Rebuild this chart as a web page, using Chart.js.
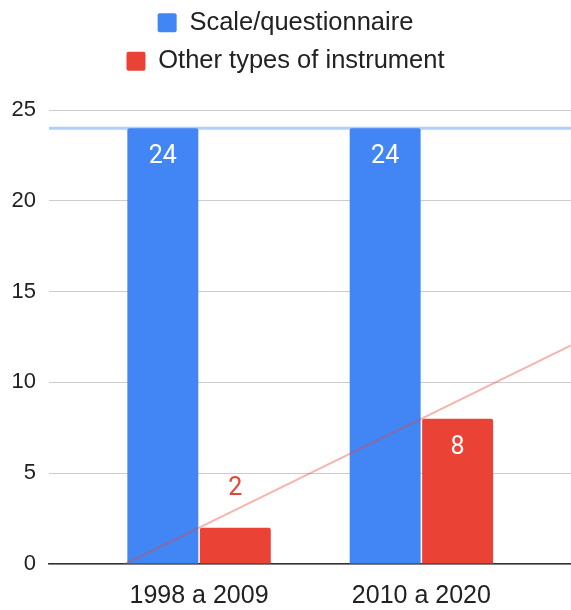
<!DOCTYPE html>
<html>
<head>
<meta charset="utf-8">
<script src="https://cdn.jsdelivr.net/npm/chart.js@4/dist/chart.umd.min.js"></script>
<style>
  html, body { margin: 0; padding: 0; background: #ffffff; }
  canvas { display: block; }
</style>
</head>
<body>
<canvas id="chart" width="571" height="610"></canvas>
<script>
// Periods on the horizontal axis
const periods = ['1998 a 2009', '2010 a 2020'];
// Number of studies per instrument type
const scaleQuestionnaire = [24, 24];
const otherInstruments = [2, 8];
// Value axis ticks
const yTicks = [0, 5, 10, 15, 20, 25];

const BLUE = '#4285f4';
const RED = '#ea4335';
const X_MIN = -0.675;
const X_MAX = 1.673;

// Least-squares linear trend over the period index
function linearTrend(values) {
  const n = values.length;
  const xs = values.map((_, i) => i);
  const mx = xs.reduce((a, b) => a + b, 0) / n;
  const my = values.reduce((a, b) => a + b, 0) / n;
  let num = 0, den = 0;
  xs.forEach((x, i) => { num += (x - mx) * (values[i] - my); den += (x - mx) * (x - mx); });
  const slope = den ? num / den : 0;
  const icpt = my - slope * mx;
  return [X_MIN, X_MAX].map(x => ({ x, y: icpt + slope * x }));
}

// Value labels: inside the bar top when it fits, above the bar otherwise
const valueLabels = {
  id: 'valueLabels',
  afterDatasetsDraw(chart) {
    const ctx = chart.ctx;
    ctx.save();
    ctx.font = '25px Roboto, "Liberation Sans", sans-serif';
    ctx.textAlign = 'center';
    ctx.textBaseline = 'middle';
    chart.data.datasets.forEach((ds, i) => {
      if (ds.type === 'line') return;
      const meta = chart.getDatasetMeta(i);
      meta.data.forEach((bar, j) => {
        const v = ds.data[j].y;
        const h = bar.base - bar.y;
        if (h > 50) {
          ctx.fillStyle = '#ffffff';
          ctx.fillText(String(v), bar.x, bar.y + 29);
        } else {
          ctx.fillStyle = ds.backgroundColor;
          ctx.fillText(String(v), bar.x, bar.y - 39);
        }
      });
    });
    ctx.restore();
  }
};

// Extra room below the legend, with the legend rows nudged up
const legendSpace = {
  id: 'legendSpace',
  beforeInit(chart) {
    const legend = chart.legend;
    const fit = legend.fit;
    legend.fit = function () {
      fit.call(this);
      this.height = 110;
    };
  },
  afterLayout(chart) {
    chart.legend.top -= 3;
    chart.legend.bottom -= 3;
  }
};

new Chart(document.getElementById('chart'), {
  type: 'bar',
  data: {
    datasets: [
      {
        label: 'Scale/questionnaire',
        data: scaleQuestionnaire.map((v, i) => ({ x: i, y: v })),
        backgroundColor: BLUE,
        borderWidth: 0,
        borderRadius: { topLeft: 2, topRight: 2 },
        categoryPercentage: 0.652,
        barPercentage: 0.979,
        order: 1
      },
      {
        label: 'Other types of instrument',
        data: otherInstruments.map((v, i) => ({ x: i, y: v })),
        backgroundColor: RED,
        borderWidth: 0,
        borderRadius: { topLeft: 2, topRight: 2 },
        categoryPercentage: 0.652,
        barPercentage: 0.979,
        order: 1
      },
      {
        type: 'line',
        label: 'trend-scale',
        data: linearTrend(scaleQuestionnaire),
        borderColor: 'rgba(66,133,244,0.4)',
        borderWidth: 3,
        pointRadius: 0,
        fill: false,
        clip: 0,
        order: 0
      },
      {
        type: 'line',
        label: 'trend-other',
        data: linearTrend(otherInstruments),
        borderColor: 'rgba(234,67,53,0.4)',
        borderWidth: 2,
        pointRadius: 0,
        fill: false,
        clip: 0,
        order: 0
      }
    ]
  },
  options: {
    responsive: false,
    animation: false,
    layout: { padding: 0 },
    plugins: {
      tooltip: { enabled: false },
      legend: {
        position: 'top',
        align: 'center',
        labels: {
          filter: item => !item.text.startsWith('trend-'),
          font: { family: '"Liberation Sans", Arial, sans-serif', size: 25.5 },
          color: '#222222',
          boxWidth: 19,
          boxHeight: 19,
          useBorderRadius: true,
          borderRadius: 2,
          padding: 13
        }
      }
    },
    scales: {
      x: {
        type: 'linear',
        offset: false,
        min: X_MIN,
        max: X_MAX,
        grid: { display: false, drawTicks: false, offset: false },
        border: { display: true, color: '#333333', width: 1.5 },
        afterBuildTicks: s => { s.ticks = periods.map((_, i) => ({ value: i })); },
        afterFit: s => { s.height = 46; },
        ticks: {
          callback: v => periods[v],
          font: { family: '"Liberation Sans", Arial, sans-serif', size: 25 },
          color: '#222222',
          padding: 17,
          maxRotation: 0,
          autoSkip: false
        }
      },
      y: {
        min: 0,
        max: 25,
        afterBuildTicks: s => { s.ticks = yTicks.map(v => ({ value: v })); },
        afterFit: s => { s.width = 49; },
        grid: { color: '#cccccc', lineWidth: 1, drawTicks: false },
        border: { display: false },
        ticks: {
          font: { family: '"Liberation Sans", Arial, sans-serif', size: 22 },
          color: '#222222',
          padding: 13
        }
      }
    }
  },
  plugins: [valueLabels, legendSpace]
});
</script>
</body>
</html>
